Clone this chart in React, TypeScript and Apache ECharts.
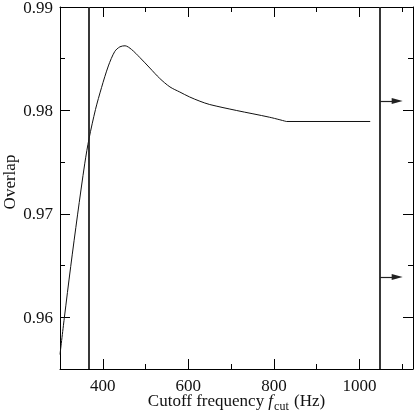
import React, { useEffect, useRef } from "react";
import * as echarts from "echarts";

const curveX = [300, 310, 325, 341, 358, 368, 383, 397, 413, 428, 440, 452, 467, 487, 510, 533, 557, 580, 603, 627, 650, 712, 790, 829];
const curveY = [0.9564, 0.9599, 0.9649, 0.9699, 0.9749, 0.9773, 0.9801, 0.9822, 0.9843, 0.9857, 0.98615, 0.98625, 0.9859, 0.9851, 0.9841, 0.9831, 0.98227, 0.98178, 0.9813, 0.98089, 0.98057, 0.98, 0.97934, 0.97893];
const tailX = [829, 1025];
const tailY = [0.97893, 0.97893];
const vLines = [367, 1048];
const arrowY = [0.98092, 0.96389];
const arrowEnd = 1088;
const xMajor = [400, 600, 800, 1000];
const xMinor = [500, 700, 900, 1100];
const yMajor = [0.96, 0.97, 0.98, 0.99];
const yMinor = [0.955, 0.965, 0.975, 0.985];

const FONT = "Liberation Serif";

export default function App() {
  const ref = useRef<HTMLDivElement>(null);
  useEffect(() => {
    if (!ref.current) return;
    const chart = echarts.init(ref.current, null, { renderer: "svg" });
    const axisLine = { show: true, lineStyle: { color: "#000", width: 1 } };
    const mkX = (pos: string, ticks: number[], len: number, labels: boolean, line: boolean, extra: any = {}) => ({
      type: "value",
      position: pos,
      min: 300,
      max: 1125,
      axisLine: line ? axisLine : { show: false },
      axisTick: { show: true, inside: true, length: len, customValues: ticks, lineStyle: { color: "#000", width: 1 } },
      axisLabel: labels
        ? {
            show: true,
            customValues: ticks,
            margin: 9,
            color: "#111",
            fontFamily: FONT,
            fontSize: 17,
            lineHeight: 14,
            formatter: (v: number) => String(Math.round(v)),
          }
        : { show: false },
      splitLine: { show: false },
      ...extra,
    });
    const mkY = (pos: string, ticks: number[], len: number, labels: boolean, line: boolean, extra: any = {}) => ({
      type: "value",
      position: pos,
      min: 0.955,
      max: 0.99,
      axisLine: line ? axisLine : { show: false },
      axisTick: { show: true, inside: true, length: len, customValues: ticks, lineStyle: { color: "#000", width: 1 } },
      axisLabel: labels
        ? {
            show: true,
            customValues: ticks,
            margin: 7,
            color: "#111",
            fontFamily: FONT,
            fontSize: 17,
            lineHeight: 14,
            formatter: (v: number) => v.toFixed(2),
          }
        : { show: false },
      splitLine: { show: false },
      ...extra,
    });
    const xName = {
      name: "{a|Cutoff frequency }{i|f}{s|cut}{a| (Hz)}",
      nameLocation: "middle",
      nameGap: 24,
      nameMoveOverlap: false,
      nameTextStyle: {
        rich: {
          a: { fontFamily: FONT, fontSize: 17, color: "#111", verticalAlign: "bottom", lineHeight: 16 },
          i: { fontFamily: FONT, fontSize: 17, fontStyle: "italic", color: "#111", verticalAlign: "bottom", lineHeight: 16 },
          s: { fontFamily: FONT, fontSize: 12, color: "#111", verticalAlign: "bottom", lineHeight: 16, padding: [0, 1, -3, 1] },
        },
      },
    };
    const option: any = {
      animation: false,
      grid: { left: 60, right: 2, top: 7, bottom: 46, containLabel: false, outerBoundsMode: "none" },
      xAxis: [
        mkX("bottom", xMajor, 10, true, true, xName),
        mkX("bottom", xMinor, 5, false, false),
        mkX("top", xMajor, 10, false, true),
        mkX("top", xMinor, 5, false, false),
      ],
      yAxis: [
        mkY("left", yMajor, 10, true, true, {
          name: "Overlap",
          nameLocation: "middle",
          nameGap: 42,
          nameRotate: 90,
          nameMoveOverlap: false,
          nameTextStyle: { fontFamily: FONT, fontSize: 17, color: "#111", padding: [0, 0, 0, 12] },
        }),
        mkY("left", yMinor, 5, false, false),
        mkY("right", yMajor, 10, false, true),
        mkY("right", yMinor, 5, false, false),
      ],
      series: [
        {
          type: "line",
          data: curveX.map((x, i) => [x, curveY[i]]),
          smooth: 0.3,
          symbol: "none",
          lineStyle: { color: "#111", width: 1 },
          markLine: {
            silent: true,
            symbol: ["none", "none"],
            label: { show: false },
            lineStyle: { color: "#222", width: 1.8, type: "solid" },
            data: vLines.map((v) => ({ xAxis: v })),
          },
        },
        {
          type: "line",
          data: tailX.map((x, i) => [x, tailY[i]]),
          symbol: "none",
          lineStyle: { color: "#111", width: 1 },
          markLine: {
            silent: true,
            symbol: ["none", "triangle"],
            symbolSize: [6, 11],
            label: { show: false },
            lineStyle: { color: "#222", width: 1.2, type: "solid" },
            itemStyle: { color: "#111" },
            data: arrowY.map((y) => [
              { coord: [vLines[1], y] },
              { coord: [arrowEnd, y] },
            ]),
          },
        },
      ],
    };
    chart.setOption(option);
    return () => chart.dispose();
  }, []);
  return <div ref={ref} style={{ position: "fixed", left: 0, top: 0, width: 415, height: 415 }} />;
}
